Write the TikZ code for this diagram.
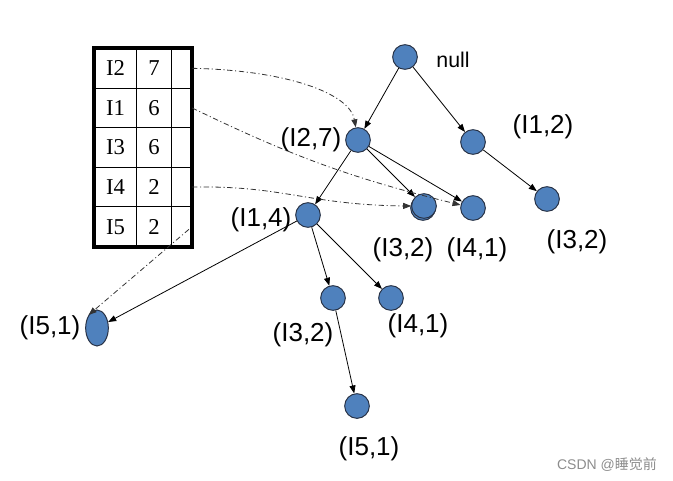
\documentclass[tikz,border=0pt]{standalone}
\usepackage{fontspec}
\usepackage{tikz}
\usetikzlibrary{positioning, arrows.meta, shapes.geometric, matrix, shadows}
\setmainfont{Liberation Serif}
\newfontfamily\lblfont{Liberation Sans}
\newfontfamily\cjkfont{Noto Sans CJK SC}
\definecolor{nodeblue}{RGB}{79, 129, 189}
\definecolor{nodeline}{RGB}{40, 50, 70}

\begin{document}
\begin{tikzpicture}[
    x=0.75pt, y=0.75pt,
    bulb/.style={
        on grid,
        circle,
        draw=nodeline,
        fill=nodeblue,
        line width=0.75pt,
        inner sep=0pt,
        minimum size=18.5pt
    },
    lbl/.style={
        on grid,
        inner sep=1pt,
        font=\lblfont\fontsize{19.5}{22}\selectfont
    },
    cell/.style={
        draw=black,
        anchor=center,
        line width=0.75pt,
        inner sep=0pt,
        minimum height=29.7pt,
        font=\fontsize{17}{20}\selectfont
    },
    arrow/.style={
        line width=0.6pt,
        -{Triangle[length=6pt, width=4.5pt]}
    },
    link/.style={
        line width=0.6pt,
        draw=black!80,
        dash pattern=on 4pt off 2pt on 0.8pt off 2pt,
        -{Triangle[length=6pt, width=4.5pt]}
    }
]
\useasboundingbox (0,0) rectangle (673,480);

% Header table
\matrix (tbl) [matrix of nodes, nodes in empty cells, anchor=north west,
    inner sep=0pt, draw, line width=3pt, column sep=-0.75pt, row sep=-0.75pt,
    nodes={cell},
    column 1/.style={nodes={minimum width=31.5pt}},
    column 2/.style={nodes={minimum width=26.25pt}},
    column 3/.style={nodes={minimum width=15pt}}] at (92,434) {
    I2 & 7 & \\
    I1 & 6 & \\
    I3 & 6 & \\
    I4 & 2 & \\
    I5 & 2 & \\
};

% Nodes
\node (null) [bulb] at (405,423) {};
\node (i27) [bulb, below left=62.25pt and 35.25pt of null] {};
\node (i12) [bulb, below right=63.75pt and 51pt of null] {};
\node (i32c) [bulb, below right=42.75pt and 55.5pt of i12] {};
\node (i14) [bulb, below left=56.25pt and 37.5pt of i27] {};
\node (i32a) [bulb, below right=49.5pt and 49.5pt of i27,
    copy shadow={shadow xshift=-0.75pt, shadow yshift=-1.5pt}] {};
\node (i41a) [bulb, below right=1.5pt and 36.75pt of i32a] {};
\node (i32b) [bulb, below right=62.25pt and 18.75pt of i14] {};
\node (i41b) [bulb, right=43.5pt of i32b] {};
\node (i51b) [bulb, below right=81pt and 18pt of i32b] {};
\node (i51a) [ellipse, draw=nodeline, fill=nodeblue, line width=0.75pt,
    inner sep=0pt, minimum width=17pt, minimum height=27pt] at (97,152) {};

% Labels
\node (nulllbl) [lbl, font=\lblfont\fontsize{16}{18}\selectfont, below right=2pt and 36pt of null] {null};
\node (lbl12) [lbl, above right=11.25pt and 52.5pt of i12] {(I1,2)};
\node (lbl27) [lbl, left=35.25pt of i27] {(I2,7)};
\node (lbl32c) [lbl, below right=32.25pt and 22.5pt of i32c] {(I3,2)};
\node (lbl14) [lbl, below left=3.75pt and 35.25pt of i14] {(I1,4)};
\node (lbl32a) [lbl, below left=33pt and 15.75pt of i32a] {(I3,2)};
\node (lbl41a) [lbl, below right=31.5pt and 3pt of i41a] {(I4,1)};
\node (lbl32b) [lbl, below left=27.75pt and 22.5pt of i32b] {(I3,2)};
\node (lbl41b) [lbl, below right=21pt and 20.25pt of i41b] {(I4,1)};
\node (lbl51b) [lbl, below right=32.25pt and 9pt of i51b] {(I5,1)};
\node (lbl51a) [lbl, left=35.25pt of i51a] {(I5,1)};

\node (mark) [text=black!45, font=\lblfont\fontsize{10.5}{12}\selectfont] at (607,15) {CSDN @{\cjkfont 睡觉前}};

% Connections
\draw [arrow] (null) -- (i27);
\draw [arrow] (null) -- (i12);
\draw [arrow] (i12) -- (i32c);
\draw [arrow] (i27) -- (i14);
\draw [arrow] (i27) -- (i32a);
\draw [arrow] (i27) -- (i41a);
\draw [arrow] (i14) -- (i32b);
\draw [arrow] (i14) -- (i41b);
\draw [arrow] (i14) -- (i51a);
\draw [arrow] (i32b) -- (i51b);

% Node links
\draw [link] (tbl-1-3.east) .. controls +(95,-2) and +(-6,34) .. (i27.100);
\draw [link] (tbl-2-3.east) to[bend right=6] (i41a);
\draw [link] (tbl-4-3.east) .. controls +(90,2) and +(-102,1) .. (i32a.west);
\draw [link, shorten <=3pt] (tbl-5-3.east) -- (i51a.north west);

\end{tikzpicture}
\end{document}
